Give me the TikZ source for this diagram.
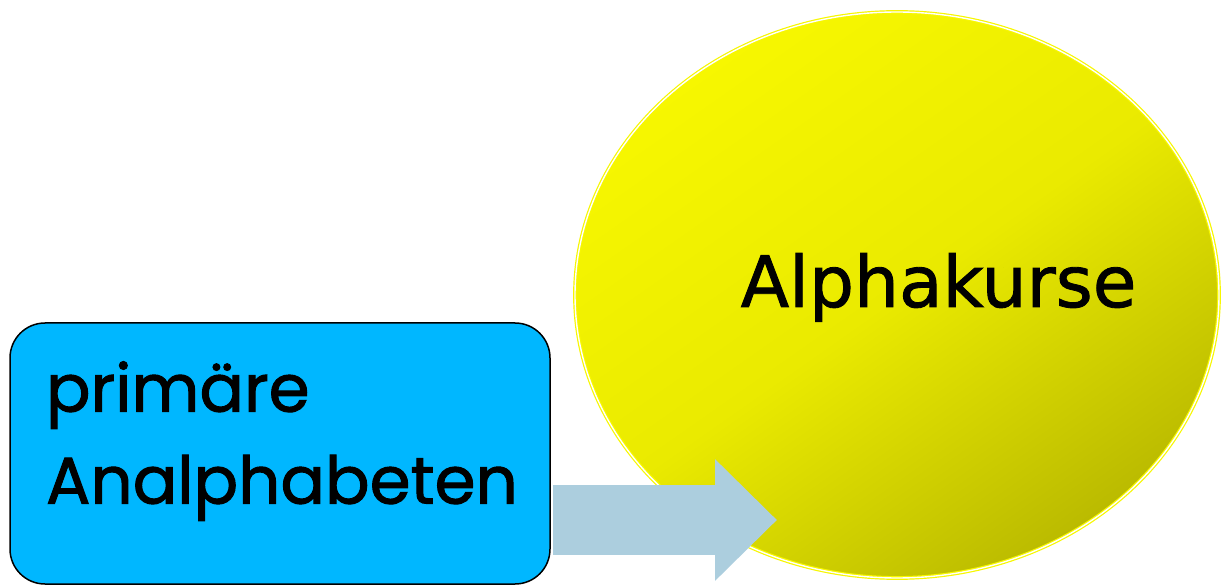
\documentclass[tikz,border=0pt]{standalone}
\usepackage{fontspec}
\newfontfamily\groupfont[FakeBold=1.5]{Poppins}
\newfontfamily\kursfont[FakeBold=1.2]{DejaVu Sans}
\usepackage{tikz}
\usetikzlibrary{
  arrows.meta,
  shapes.geometric
}
\definecolor{groupblue}{RGB}{0,183,255}
\definecolor{flowblue}{RGB}{172,206,222}
\definecolor{kursyellow}{RGB}{247,247,0}
\definecolor{kursmid}{RGB}{234,234,0}
\definecolor{kursolive}{RGB}{186,186,0}
\tikzset{
  groupbox/.style={draw, rounded corners=35pt, fill=groupblue,
    line width=1.5pt, minimum width=540pt, minimum height=261pt,
    inner xsep=36pt, text width=468pt, text depth=134pt, align=left,
    font=\groupfont\fontsize{66}{92}\selectfont},
  kursblob/.style={ellipse, draw=kursyellow, double=white,
    double distance=1.4pt, line width=1.2pt,
    top color=kursyellow, bottom color=kursolive, middle color=kursmid,
    shading angle=35, minimum width=644pt, minimum height=566pt},
  flowarr/.style={draw=flowblue, line width=70pt,
    -{Triangle[length=62pt, width=118pt]}},
}

\begin{document}
\begin{tikzpicture}[x=1pt, y=-1pt]
  \useasboundingbox (0,0) rectangle (1221,585);

  \node[kursblob] (kurs) at (897,295) {};
  \node[font=\kursfont\fontsize{71}{80}\selectfont, anchor=base]
    (kurslabel) at (938.5,307) {Alphakurse};

  \node[groupbox] (prim) at (280,453.5) {primäre\\Analphabeten};

  % block arrow into the course
  \coordinate (tip) at (777,520);
  \coordinate (tail) at ([xshift=2pt]prim.east);
  \draw[flowarr] (tail |- tip) -- (tip);
\end{tikzpicture}
\end{document}
